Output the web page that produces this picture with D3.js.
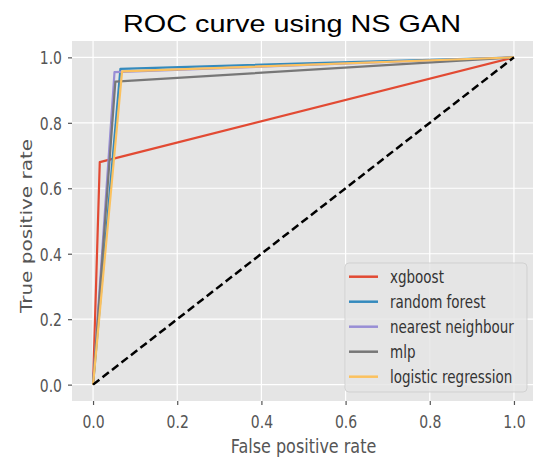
<!DOCTYPE html>
<html>
<head>
<meta charset="utf-8">
<script src="https://cdn.jsdelivr.net/npm/d3@7"></script>
<style>
  html, body { margin: 0; padding: 0; background: #ffffff; }
  svg { display: block; }
</style>
</head>
<body>
<svg id="chart" width="533" height="459"></svg>
<script>
// ROC curves (false positive rate, true positive rate) per classifier
const models = ["xgboost", "random forest", "nearest neighbour", "mlp", "logistic regression"];
const colors = ["#E24A33", "#348ABD", "#988ED5", "#777777", "#FBC15E"];
const fprXgboost = [0, 0.016, 1];
const tprXgboost = [0, 0.68, 1];
const fprForest = [0, 0.065, 1];
const tprForest = [0, 0.965, 1];
const fprNeighbour = [0, 0.051, 1];
const tprNeighbour = [0, 0.955, 1];
const fprMlp = [0, 0.053, 1];
const tprMlp = [0, 0.926, 1];
const fprLogistic = [0, 0.069, 1];
const tprLogistic = [0, 0.957, 1];
const chanceLine = [0, 1];
const ticks = [0, 0.2, 0.4, 0.6, 0.8, 1.0];

const curves = [
  [fprXgboost, tprXgboost],
  [fprForest, tprForest],
  [fprNeighbour, tprNeighbour],
  [fprMlp, tprMlp],
  [fprLogistic, tprLogistic]
];

const svg = d3.select("#chart");
const plotLeft = 72, plotRight = 535, plotTop = 41, plotBottom = 401;
const x = d3.scaleLinear().domain([-0.05, 1.05]).range([plotLeft, plotRight]);
const y = d3.scaleLinear().domain([-0.05, 1.05]).range([plotBottom, plotTop]);
const textFont = "DejaVu Sans, Verdana, sans-serif";
const stretch = 1.3;

// plot background
svg.append("rect")
  .attr("x", plotLeft).attr("y", plotTop)
  .attr("width", plotRight - plotLeft).attr("height", plotBottom - plotTop)
  .attr("fill", "#E5E5E5");

// grid
const grid = svg.append("g");
grid.selectAll("line.gx").data(ticks).join("line")
  .attr("class", "gx")
  .attr("x1", d => x(d)).attr("x2", d => x(d))
  .attr("y1", plotTop).attr("y2", plotBottom)
  .attr("stroke", "#ffffff").attr("stroke-width", 1.2);
grid.selectAll("line.gy").data(ticks).join("line")
  .attr("class", "gy")
  .attr("y1", d => y(d)).attr("y2", d => y(d))
  .attr("x1", plotLeft).attr("x2", plotRight)
  .attr("stroke", "#ffffff").attr("stroke-width", 1.2);

// axes
const fmt = d3.format(".1f");
const xAxis = svg.append("g")
  .attr("transform", `translate(0,${plotBottom})`)
  .call(d3.axisBottom(x).tickValues(ticks).tickFormat(fmt).tickSize(4).tickSizeOuter(0));
xAxis.select(".domain").remove();
xAxis.selectAll(".tick line").attr("stroke", "#555555").attr("stroke-width", 1.2);
xAxis.selectAll(".tick text")
  .attr("y", 0).attr("dy", 0)
  .attr("transform", `translate(0,27) scale(1,${stretch})`)
  .attr("fill", "#555555")
  .style("font-family", textFont).style("font-size", "14px");

const yAxis = svg.append("g")
  .attr("transform", `translate(${plotLeft},0)`)
  .call(d3.axisLeft(y).tickValues(ticks).tickFormat(fmt).tickSize(4).tickSizeOuter(0));
yAxis.select(".domain").remove();
yAxis.selectAll(".tick line").attr("stroke", "#555555").attr("stroke-width", 1.2);
yAxis.selectAll(".tick text")
  .attr("x", -10).attr("dy", "0.36em")
  .attr("transform", `scale(1,${stretch})`)
  .attr("fill", "#555555")
  .style("font-family", textFont).style("font-size", "14px");

// ROC curves
const line = d3.line().x(d => x(d[0])).y(d => y(d[1]));
curves.forEach((c, i) => {
  const pts = c[0].map((f, k) => [f, c[1][k]]);
  svg.append("path")
    .attr("d", line(pts))
    .attr("fill", "none")
    .attr("stroke", colors[i])
    .attr("stroke-width", 2.2)
    .attr("stroke-linejoin", "round");
});

// chance diagonal
svg.append("path")
  .attr("d", line(chanceLine.map(v => [v, v])))
  .attr("fill", "none")
  .attr("stroke", "#000000")
  .attr("stroke-width", 2.5)
  .attr("stroke-dasharray", "8,4");

// axis labels
svg.append("text")
  .attr("transform", `translate(${(plotLeft + plotRight) / 2},453) scale(1,${stretch * 0.9})`)
  .attr("text-anchor", "middle")
  .attr("fill", "#555555")
  .style("font-family", textFont).style("font-size", "16px")
  .text("False positive rate");

svg.append("text")
  .attr("transform", `translate(32,226) rotate(-90) scale(1.25,1)`)
  .attr("text-anchor", "middle")
  .attr("fill", "#555555")
  .style("font-family", textFont).style("font-size", "16px")
  .text("True positive rate");

// title
svg.append("text")
  .attr("x", 292).attr("y", 32)
  .attr("text-anchor", "middle")
  .attr("textLength", 338).attr("lengthAdjust", "spacingAndGlyphs")
  .attr("fill", "#000000")
  .style("font-family", "Liberation Sans, Arial, sans-serif").style("font-size", "24px")
  .text("ROC curve using NS GAN");

// legend
const legend = svg.append("g");
legend.append("rect")
  .attr("x", 345).attr("y", 263)
  .attr("width", 182).attr("height", 129)
  .attr("rx", 4)
  .attr("fill", "#E5E5E5").attr("fill-opacity", 0.8)
  .attr("stroke", "#cccccc").attr("stroke-opacity", 0.8);
const rowY = d3.scalePoint().domain(models).range([276.7, 376.7]);
models.forEach((m, i) => {
  const cy = rowY(m);
  legend.append("line")
    .attr("x1", 349).attr("x2", 378)
    .attr("y1", cy).attr("y2", cy)
    .attr("stroke", colors[i]).attr("stroke-width", 2.5);
  legend.append("text")
    .attr("transform", `translate(390,${cy + 6.4}) scale(1,${stretch})`)
    .attr("fill", "#333333")
    .style("font-family", textFont).style("font-size", "13.5px")
    .text(m);
});
</script>
</body>
</html>
